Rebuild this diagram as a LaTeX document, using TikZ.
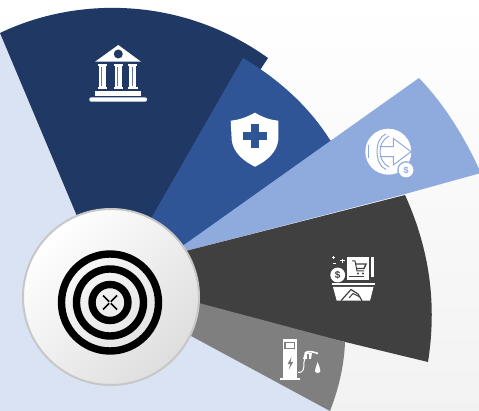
\documentclass[tikz,border=0pt]{standalone}
\usepackage{fontspec}
\setmainfont{Liberation Sans}
\definecolor{navy}{HTML}{1F3864}
\definecolor{midblue}{HTML}{2F5597}
\definecolor{lightblue}{HTML}{8FAADC}
\definecolor{darkgray}{HTML}{404040}
\definecolor{midgray}{HTML}{7F7F7F}
\definecolor{palebg}{HTML}{DAE3F3}
\tikzset{
  wedge/.style={draw=none},
  ink/.style={fill=white,draw=none},
  ring/.style={draw=black,line width=7.4pt,fill=none}
}
\begin{document}
\begin{tikzpicture}[x=1pt,y=-1pt]
\useasboundingbox (0,0) rectangle (479,411);
\begin{scope}
\clip (0,0) rectangle (479,411);
\shade[top color=white,bottom color=black!5] (0,0) rectangle (479,411);
\fill[palebg] (0,33) -- (111,297) -- (180,325) -- (330,411) -- (0,411) -- cycle;
% wedges
\fill[wedge,navy] (0,33) .. controls (75,-3) and (180,-5) .. (268,58) -- (111,297) -- cycle;
\fill[wedge,midblue] (243,58) .. controls (280,80) and (310,108) .. (330,140) -- (334,143) -- (165,262) -- (150,297) -- (106,297) -- cycle;
\fill[wedge,lightblue] (419,78) .. controls (445,105) and (465,138) .. (481,173) -- (405,194) -- (170,255) -- (160,262) -- cycle;
\fill[wedge,darkgray] (405,195) .. controls (430,250) and (437,305) .. (428,362) -- (180,302) -- (170,255) -- cycle;
\fill[wedge,midgray] (345,342) .. controls (344,368) and (338,390) .. (330,411) -- (180,330) -- (180,298) -- cycle;
% bank icon
\fill[ink] (118.3,45) -- (141,61.7) -- (95,61.7) -- cycle;
\fill[navy] (118.3,54) circle (4.5);
\foreach \cx in {102.3,118.3,132.7}{
  \fill[ink] (\cx-4.5,64.3) rectangle (\cx+4.5,66.5);
  \fill[ink] (\cx-3.5,66.5) rectangle (\cx+3.5,87);
  \fill[ink] (\cx-4.8,87) rectangle (\cx+4.8,89.3);
  \fill[navy!70!white] (\cx-1.2,67) rectangle (\cx-0.4,86.5);
}
\fill[ink] (95,91) rectangle (141,95.7);
\fill[ink,rounded corners=2pt] (89.3,97.3) rectangle (147,101.7);
% shield icon
\fill[ink] (255,112.7) .. controls (245,118) and (238,120) .. (230.7,120.7)
  -- (231.7,140) .. controls (233,152) and (243,161) .. (255,166.7)
  .. controls (267,161) and (277,152) .. (278.3,140) -- (278.3,120.7)
  .. controls (271,120) and (264,118) .. (255,112.7) -- cycle;
\fill[midblue] (242.7,132) rectangle (267.3,140);
\fill[midblue] (251,124) rectangle (259,148.5);
% call icon
\fill[ink] (388.3,151.7) circle (23);
\draw[lightblue,line width=1pt] (379.5,146.7) -- (393.3,146.7) -- (393.3,138.3) -- (411,151.7) -- (393.3,165) -- (393.3,156.7) -- (379.5,156.7);
\draw[lightblue,line width=1pt] (386,134) .. controls (374,138) and (374,165) .. (386,169.5);
\draw[lightblue,line width=1pt] (389,136) .. controls (377,142) and (377,161) .. (389,167);
\draw[lightblue,line width=1pt] (368,145) -- (368,158);
\fill[lightblue] (406,170) circle (8.8);
\fill[ink] (406,170) circle (7.4);
\node[inner sep=0pt,text=lightblue,font=\bfseries\fontsize{9}{9}\selectfont] (callcoin) at (406,170) {\$};
% cart icon
\fill[ink] (347.3,256.7) rectangle (369,280);
\fill[ink] (370.7,256.7) rectangle (374,277.3);
\draw[darkgray,line width=1pt] (352,261) -- (355,261) -- (357,271) -- (364,271);
\draw[darkgray,line width=1.4pt] (355,264) -- (366,264) -- (364,268.5) -- (356,268.5);
\fill[darkgray] (358,273.5) circle (1.1) (363,273.5) circle (1.1);
\fill[darkgray] (349,276) rectangle (364,277.5);
\fill[ink] (337.7,275) circle (7.4);
\node[inner sep=0pt,text=darkgray,font=\bfseries\fontsize{10}{10}\selectfont] (cartcoin) at (337.7,275) {\$};
\draw[white,line width=1pt] (332,257.5) -- (335,257.5) (333.5,256) -- (333.5,259);
\draw[white,line width=1pt] (340,261) -- (345,261) (342.5,259) -- (342.5,263);
\fill[ink] (333,263) rectangle (336,264.2);
\fill[ink] (331.7,283.3) rectangle (375,285.3);
\fill[ink] (333,287) -- (373.5,287) -- (370,300.7) -- (336.7,300.7) -- cycle;
\draw[darkgray,line width=1.2pt] (341,300.7) -- (351,289.5) -- (358,294) -- (362,300.7);
\draw[darkgray,line width=1pt] (349,298) -- (353,293.5) -- (360,297);
% pump icon
\fill[ink] (282.7,339.3) rectangle (296.7,378);
\fill[ink] (280,377.7) rectangle (300,379.9);
\fill[midgray] (284.4,341.8) rectangle (295.4,349.3);
\fill[ink] (285.5,342.8) rectangle (294.3,348.3);
\fill[midgray] (291.5,357) -- (287.6,364) -- (290.2,364) -- (288.8,369.7) -- (293.2,362) -- (290.6,362) -- cycle;
\draw[white,line width=1pt] (298,372.5) .. controls (304,373) and (304,368) .. (304,362) -- (305,358);
\fill[ink] (303,359) -- (305,352) -- (309,352.5) -- (312,353) -- (311,359) -- cycle;
\fill[midgray] (307,354) rectangle (309,359);
\draw[white,line width=1.6pt] (305,353) .. controls (308,350) and (313,352) .. (318,353.5);
\fill[ink] (317.7,362) .. controls (316,367) and (315,369) .. (315,371) .. controls (315,373.5) and (320.4,373.5) .. (320.4,371) .. controls (320.4,369) and (319.4,367) .. (317.7,362) -- cycle;
% centre disc
\shade[top color=white,bottom color=black!13,shading angle=45] (111,297) circle (88);
\draw[black!22,line width=2pt] (111,297) circle (88);
\draw[ring] (110,302.5) circle (48.5);
\draw[ring] (110,302.5) circle (33.5);
\draw[ring] (110,302.5) circle (18);
\draw[black,line width=1.7pt] (103,295.5) -- (117,309.5) (117,295.5) -- (103,309.5);
\fill[white] (110,302.5) circle (1.3);
\end{scope}
\end{tikzpicture}
\end{document}
